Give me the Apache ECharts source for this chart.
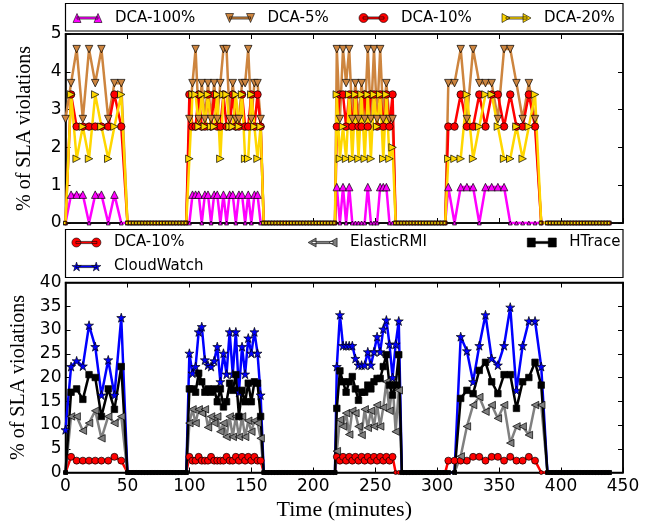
<!DOCTYPE html>
<html>
<head>
<meta charset="utf-8">
<script src="https://cdn.jsdelivr.net/npm/echarts@6/dist/echarts.min.js"></script>
<style>
  html, body { margin: 0; padding: 0; background: #fff; }
  #chart { width: 662px; height: 527px; }
</style>
</head>
<body>
<div id="chart"></div>
<script>
// sample times (minutes) of the four busy periods and the idle stretches between them
var seg1T = [0, 4.5, 9, 14, 19, 24, 29, 34.5, 39.5, 45];
var gap1T = [50, 52.5, 55, 57.5, 60, 62.5, 65, 67.5, 70, 72.5, 75, 77.5, 80, 82.5, 85, 87.5, 90, 92.5, 95, 97.5];
var seg2T = [100, 102.5, 105, 107.5, 110, 112.5, 115, 117.5, 120, 122.5, 125, 127.5, 130, 132.5, 135, 137.5, 140, 142.5, 145, 147.5, 150, 152.5, 155, 157.5];
var gap2T = [160, 162.5, 165, 167.5, 170, 172.5, 175, 177.5, 180, 182.5, 185, 187.5, 190, 192.5, 195, 197.5, 200, 202.5, 205, 207.5, 210, 212.5, 215, 217.5];
var seg3T = [219, 221.5, 224, 226.5, 229, 231.5, 234, 236.5, 239, 241.5, 244, 246.5, 249, 251.5, 254, 256.5, 259, 261.5, 264, 266.5, 269];
var gap3T = [271.5, 274, 276.5, 279, 281.5, 284, 286.5, 289, 291.5, 294, 296.5, 299, 301.5, 304, 306.5];
var seg4T = [309, 314, 319, 324, 329, 334, 339, 344, 349, 354, 359, 364, 369, 374, 379, 384];
var gap4T = [389, 391.5, 394, 396.5, 399, 401.5, 404, 406.5, 409, 411.5, 414, 416.5, 419, 421.5, 424, 426.5, 429, 431.5, 434, 436.5, 439];

// top panel (% of SLA violations), one array per busy period
var dca100 = [
  [0, 0.75, 0.75, 0.75, 0, 0.75, 0.75, 0, 0.75, 0],
  [0, 0.75, 0.75, 0.75, 0, 0.75, 0.75, 0, 0.75, 0.75, 0, 0.75, 0, 0.75, 0.75, 0, 0.75, 0.75, 0, 0.75, 0, 0.75, 0.75, 0],
  [0.95, 0, 0.95, 0, 0.95, 0, 0, 0, 0, 0, 0.95, 0, 0, 0, 0.95, 0.95, 0.95, 0, 0, 0, 0],
  [0.95, 0, 0.95, 0.95, 0.95, 0, 0.95, 0.95, 0.95, 0.95, 0, 0, 0, 0, 0, 0]
];
var dca5 = [
  [2.75, 3.7, 4.6, 2.75, 4.6, 3.7, 4.6, 2.75, 3.7, 3.7],
  [2.75, 3.7, 4.6, 2.75, 3.7, 2.75, 3.7, 2.75, 3.7, 2.75, 3.7, 4.6, 4.6, 2.75, 3.7, 2.75, 2.75, 3.7, 3.7, 4.6, 2.75, 3.7, 3.7, 2.75],
  [4.6, 2.75, 4.6, 3.7, 4.6, 2.75, 3.7, 2.75, 3.7, 2.75, 4.6, 2.75, 4.6, 2.75, 4.6, 2.75, 3.7, 2.75, 2.75, 0, 0],
  [3.7, 3.7, 4.6, 2.75, 4.6, 3.7, 3.7, 3.7, 2.75, 4.6, 4.6, 3.7, 2.75, 3.7, 2.75, 0]
];
var dca10 = [
  [0, 3.4, 2.55, 2.55, 2.55, 2.55, 2.55, 2.55, 3.4, 2.55],
  [3.4, 2.55, 2.55, 3.4, 2.55, 2.55, 3.4, 2.55, 3.4, 2.55, 2.55, 3.4, 2.55, 2.55, 3.4, 2.55, 2.55, 3.4, 2.55, 2.55, 3.4, 2.55, 3.4, 2.55],
  [2.55, 3.4, 3.4, 2.55, 3.4, 2.55, 3.4, 2.55, 2.55, 3.4, 2.55, 3.4, 3.4, 2.55, 3.4, 2.55, 3.4, 2.55, 3.4, 0, 0],
  [2.55, 2.55, 3.4, 2.55, 2.55, 3.4, 2.55, 3.4, 3.4, 2.55, 3.4, 2.55, 2.55, 3.4, 2.55, 0]
];
var dca20 = [
  [0, 3.4, 1.7, 2.55, 1.7, 3.4, 2.55, 1.7, 2.55, 3.4],
  [1.7, 3.4, 3.4, 2.55, 3.4, 2.55, 3.4, 2.55, 2.55, 3.4, 1.7, 3.4, 3.4, 2.55, 2.55, 3.4, 2.55, 3.4, 1.7, 1.7, 3.4, 2.55, 1.7, 2.55],
  [3.4, 1.7, 2.55, 1.7, 3.4, 1.7, 3.4, 1.7, 3.4, 1.7, 3.4, 1.7, 3.4, 2.55, 3.4, 1.7, 3.4, 1.7, 2.0, 0, 0],
  [1.7, 1.7, 1.7, 3.4, 1.7, 2.55, 3.4, 3.4, 2.55, 1.7, 1.7, 2.55, 1.7, 2.55, 3.4, 0]
];

// bottom panel
var dca10b = [
  [0, 3.3, 2.5, 2.5, 2.5, 2.5, 2.5, 2.5, 3.3, 2.5],
  [3.3, 2.5, 2.5, 3.3, 2.5, 2.5, 2.5, 3.3, 2.5, 2.5, 2.5, 2.5, 3.3, 2.5, 2.5, 3.3, 2.5, 3.3, 2.5, 3.3, 2.5, 3.3, 2.5, 2.5],
  [3.3, 2.5, 3.3, 2.5, 3.3, 2.5, 3.3, 2.5, 3.3, 2.5, 3.3, 2.5, 3.3, 2.5, 3.3, 2.5, 3.3, 2.5, 3.3, 0, 0],
  [2.5, 2.5, 2.5, 2.5, 3.3, 3.3, 2.5, 3.3, 3.3, 2.5, 3.3, 2.5, 2.5, 3.3, 2.5, 0]
];
var elastic = [
  [0, 11.8, 11.8, 8.8, 10.4, 13, 7.2, 11.8, 10.4, 11.8],
  [10.4, 13.3, 10.4, 13.3, 12.5, 13.3, 9.5, 11.8, 10.4, 11.8, 8.6, 10.4, 7.5, 11.8, 7.5, 11.8, 7.5, 11.8, 7.5, 10.9, 8.6, 10.9, 10.4, 7.2],
  [4.5, 11.1, 9.7, 12.5, 8, 13, 12.5, 9.7, 7.9, 13.3, 9.4, 13, 9.7, 14.2, 9.7, 13.7, 19.1, 13, 18.8, 8.6, 17.3],
  [0, 0, 3.4, 9.7, 14.2, 15.9, 12.8, 14.2, 11.4, 14.2, 6.2, 9.7, 9.7, 7.9, 14.2, 14.2]
];
var htrace = [
  [0, 16.9, 17.6, 15.4, 20.6, 20, 11.8, 17.6, 13.3, 22.3],
  [17.6, 17.6, 16.9, 20.9, 19.1, 16.9, 17.6, 16.9, 17.6, 14.9, 17.6, 13.8, 14.9, 18.8, 17.3, 20.6, 11.8, 17.3, 14.9, 18.8, 14.9, 19.1, 18.8, 11.8],
  [13.5, 21.4, 19.1, 16.9, 19.1, 20.2, 17.6, 15.2, 16.9, 16.9, 18.4, 17.6, 19.1, 19.8, 19.8, 22.3, 24.8, 18.4, 16.3, 18.4, 24.8],
  [0, 0, 15.6, 17.3, 16.6, 21.5, 23.2, 19.1, 16.6, 20.6, 20.6, 13.5, 19.1, 20, 23.2, 18.4]
];
var cloudwatch = [
  [9, 22.3, 23.5, 22.4, 31, 26.5, 16.3, 23.7, 16.3, 32.6],
  [25.1, 20.9, 22.3, 29.6, 30.7, 23.7, 22.6, 22.3, 23.5, 26.5, 19.1, 25.1, 20.7, 29.6, 20.7, 29.6, 16.9, 26.5, 20.7, 28.3, 25.1, 29.6, 25.1, 16.3],
  [22.3, 33.2, 26.7, 26.7, 26.7, 26.7, 24, 22.6, 22.6, 22.6, 25.4, 22.6, 25.4, 28.6, 25.4, 30.2, 32.1, 27, 20, 27, 31.9],
  [0, 0, 28.6, 25.6, 19.1, 26.7, 33.2, 24, 22.6, 26.7, 34.8, 17.3, 26.7, 31.9, 31.9, 22.3]
];

var topTicks = [0, 1, 2, 3, 4, 5];
var bottomTicks = [0, 5, 10, 15, 20, 25, 30, 35, 40];
var timeTicks = [0, 50, 100, 150, 200, 250, 300, 350, 400, 450];

// idle stretches are flat at zero in both panels
function build(parts) {
  var segT = [seg1T, seg2T, seg3T, seg4T];
  var gapT = [gap1T, gap2T, gap3T, gap4T];
  var out = [];
  for (var k = 0; k < 4; k++) {
    segT[k].forEach(function (t, i) { out.push([t, parts[k][i]]); });
    gapT[k].forEach(function (t) { out.push([t, 0]); });
  }
  return out;
}

var STAR = 'path://M0,-10L2.245,-3.09L9.511,-3.09L3.633,1.18L5.878,8.09L0,3.82L-5.878,8.09L-3.633,1.18L-9.511,-3.09L-2.245,-3.09Z';
var TRI_UP = 'path://M5,0L10,10L0,10Z';
var TRI_DOWN = 'path://M0,0L10,0L5,10Z';
var TRI_RIGHT = 'path://M0,0L10,5L0,10Z';
var TRI_LEFT = 'path://M10,0L0,5L10,10Z';

// legend icons: marker - line - marker, drawn in a 29x9 box
var BAR = 'M4,3.4L25,3.4L25,5.6L4,5.6Z';
var legendIcons = {
  'DCA-100%': 'path://M0,9L4,0L8,9Z M21,9L25,0L29,9Z ' + BAR,
  'DCA-5%': 'path://M0,0L8,0L4,9Z M21,0L29,0L25,9Z ' + BAR,
  'DCA-10%': 'path://M0,4.5A4.5,4.5,0,1,1,9,4.5A4.5,4.5,0,1,1,0,4.5Z M20,4.5A4.5,4.5,0,1,1,29,4.5A4.5,4.5,0,1,1,20,4.5Z ' + BAR,
  'DCA-20%': 'path://M0,0L8,4.5L0,9Z M21,0L29,4.5L21,9Z ' + BAR,
  'ElasticRMI': 'path://M8,0L0,4.5L8,9Z M29,0L21,4.5L29,9Z ' + BAR,
  'HTrace': 'path://M0,0L8,0L8,9L0,9Z M21,0L29,0L29,9L21,9Z ' + BAR,
  'CloudWatch': 'path://M4.5,0L5.6,3.46L9.26,3.46L6.32,5.59L7.44,9L4.5,6.91L1.56,9L2.68,5.59L-0.26,3.46L3.38,3.46Z ' +
    'M24.5,0L25.6,3.46L29.26,3.46L26.32,5.59L27.44,9L24.5,6.91L21.56,9L22.68,5.59L19.74,3.46L23.38,3.46Z ' + BAR
};

function mkSeries(name, parts, color, symbol, size, panel) {
  return {
    name: name,
    type: 'line',
    xAxisIndex: panel * 2,
    yAxisIndex: panel * 2,
    data: build(parts),
    symbol: symbol,
    symbolSize: function (v) { return v[1] === 0 ? 4 : size; },
    showAllSymbol: true,
    lineStyle: { color: color, width: 2.5 },
    itemStyle: { color: color, borderColor: '#000', borderWidth: 0.7 },
    emphasis: { disabled: true }
  };
}

function xAxis(grid, pos, labels, name) {
  return {
    type: 'value', gridIndex: grid, position: pos, min: 0, max: 450, interval: 50,
    axisLine: { show: true, onZero: false, lineStyle: { color: '#000', width: 1.5 } },
    axisTick: { show: true, inside: true, length: 5, lineStyle: { color: '#000', width: 1 } },
    axisLabel: { show: labels, margin: 6, color: '#000', fontFamily: 'DejaVu Sans', fontSize: 17,
      customValues: timeTicks },
    splitLine: { show: false },
    name: name || '', nameLocation: 'middle', nameGap: 27,
    nameTextStyle: { fontFamily: 'Liberation Serif', fontSize: 22, color: '#000' }
  };
}

function yAxis(grid, pos, labels, max, interval, ticks) {
  return {
    type: 'value', gridIndex: grid, position: pos, min: 0, max: max, interval: interval,
    axisLine: { show: true, onZero: false, lineStyle: { color: '#000', width: 1.5 } },
    axisTick: { show: true, inside: true, length: 5, lineStyle: { color: '#000', width: 1 } },
    axisLabel: { show: labels, margin: 4, color: '#000', fontFamily: 'DejaVu Sans', fontSize: 17,
      customValues: ticks },
    splitLine: { show: false },
    name: labels ? '% of SLA violations' : '', nameLocation: 'middle', nameGap: 31,
    nameTextStyle: { fontFamily: 'Liberation Serif', fontSize: 20, color: '#000' }
  };
}

var legendText = { fontFamily: 'DejaVu Sans', fontSize: 15, color: '#000', padding: [0, 0, 0, 8] };
function legendData(names) {
  return names.map(function (n) { return { name: n, icon: legendIcons[n] }; });
}
function legend(left, top, names, orient) {
  return {
    left: left, top: top, orient: orient || 'horizontal', padding: 0,
    itemWidth: 29, itemHeight: 9, itemGap: orient === 'vertical' ? 9 : 30,
    symbolRotate: 0, selectedMode: false,
    itemStyle: { borderColor: '#000', borderWidth: 0.6 },
    textStyle: legendText,
    data: legendData(names)
  };
}

var chart = echarts.init(document.getElementById('chart'));
chart.setOption({
  animation: false,
  backgroundColor: '#fff',
  grid: [
    { left: 65.5, right: 39, top: 34, height: 189, show: true, borderColor: '#000', borderWidth: 1.5 },
    { left: 65.5, right: 39, top: 282.5, height: 190, show: true, borderColor: '#000', borderWidth: 1.5 }
  ],
  xAxis: [
    xAxis(0, 'bottom', false),
    xAxis(0, 'top', false),
    xAxis(1, 'bottom', true, 'Time (minutes)'),
    xAxis(1, 'top', false)
  ],
  yAxis: [
    yAxis(0, 'left', true, 5, 1, topTicks),
    yAxis(0, 'right', false, 5, 1, topTicks),
    yAxis(1, 'left', true, 40, 5, bottomTicks),
    yAxis(1, 'right', false, 40, 5, bottomTicks)
  ],
  legend: [
    legend(72.7, 10.5, ['DCA-100%', 'DCA-5%', 'DCA-10%', 'DCA-20%']),
    legend(71.6, 235, ['DCA-10%', 'CloudWatch'], 'vertical'),
    legend(307.8, 235, ['ElasticRMI']),
    legend(527, 235, ['HTrace'])
  ],
  graphic: [
    { type: 'rect', silent: true, shape: { x: 65.5, y: 3.5, width: 557.5, height: 27.5 },
      style: { fill: 'none', stroke: '#000', lineWidth: 1.2 } },
    { type: 'rect', silent: true, shape: { x: 65.5, y: 229.5, width: 557.5, height: 48 },
      style: { fill: 'none', stroke: '#000', lineWidth: 1.2 } }
  ],
  series: [
    mkSeries('DCA-100%', dca100, '#ff00ff', TRI_UP, 7.5, 0),
    mkSeries('DCA-5%', dca5, '#cd853f', TRI_DOWN, 7.5, 0),
    mkSeries('DCA-10%', dca10, '#ff0000', 'circle', 7.5, 0),
    mkSeries('DCA-20%', dca20, '#ffd700', TRI_RIGHT, 7.5, 0),
    mkSeries('DCA-10%', dca10b, '#ff0000', 'circle', 7, 1),
    mkSeries('ElasticRMI', elastic, '#808080', TRI_LEFT, 7.5, 1),
    mkSeries('CloudWatch', cloudwatch, '#0000ff', STAR, 9, 1),
    mkSeries('HTrace', htrace, '#000000', 'rect', 6.5, 1)
  ]
});
</script>
</body>
</html>
